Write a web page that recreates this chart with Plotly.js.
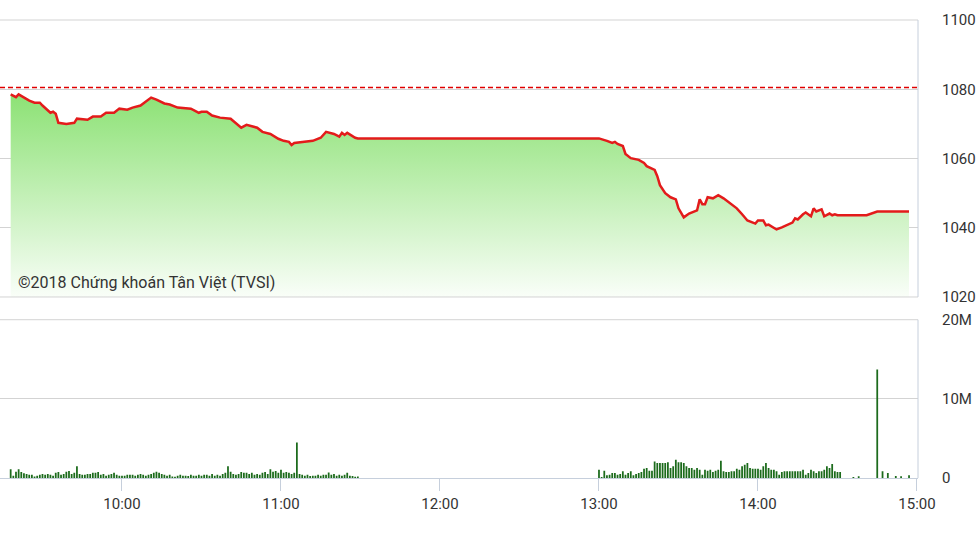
<!DOCTYPE html>
<html>
<head>
<meta charset="utf-8">
<script src="https://cdn.plot.ly/plotly-3.0.1.min.js"></script>
<style>
html,body{margin:0;padding:0;background:#fff;}
#chart{width:978px;height:549px;}
</style>
</head>
<body>
<div id="chart"></div>
<script>
// ---------- DATA ----------
const tradeDate = '2018-06-01';

const priceTimes = [
 '09:18','09:20','09:21','09:23','09:25','09:27','09:29','09:30','09:33','09:34',
 '09:35','09:36','09:39','09:42','09:43','09:47','09:49','09:52','09:54','09:57',
 '09:59','10:02','10:04','10:07','10:09','10:11','10:13','10:16','10:18','10:21',
 '10:26','10:29','10:30','10:32','10:34','10:37','10:41','10:45','10:47','10:49',
 '10:51','10:53','10:56','10:59','11:01','11:03','11:04','11:05','11:08','11:12',
 '11:15','11:17','11:20','11:22','11:23','11:24','11:25','11:28','11:29','13:00',
 '13:03','13:05','13:06','13:07','13:09','13:10','13:12','13:14','13:15','13:17',
 '13:18','13:21','13:22','13:23','13:25','13:27','13:29','13:30','13:32','13:34',
 '13:37','13:38','13:39','13:40','13:41','13:43','13:45','13:47','13:49','13:52',
 '13:54','13:56','13:59','14:00','14:02','14:03','14:04','14:07','14:09','14:11',
 '14:13','14:14','14:15','14:17','14:18','14:20','14:21','14:22','14:24','14:25',
 '14:27','14:28','14:29','14:30','14:41','14:45','14:57'
];
const priceValues = [
 1078.5,1077.7,1078.5,1077.6,1076.7,1076.1,1076.1,1075.3,1073.2,1073.5,
 1072.9,1070.3,1070.0,1070.3,1071.5,1071.2,1072.1,1072.1,1073.2,1073.2,
 1074.4,1074.1,1074.7,1075.3,1076.4,1077.6,1077.0,1075.9,1075.6,1074.7,
 1074.4,1073.2,1073.5,1073.5,1072.4,1071.8,1071.5,1068.9,1069.7,1069.2,
 1068.9,1067.7,1067.1,1065.7,1065.1,1064.8,1063.9,1064.5,1064.8,1065.1,
 1066.0,1067.7,1067.1,1066.3,1067.4,1066.8,1067.4,1066.0,1065.8,1065.8,
 1065.1,1064.5,1064.8,1064.2,1063.6,1061.3,1060.1,1059.9,1059.6,1058.7,
 1057.8,1056.7,1054.9,1052.3,1050.0,1048.8,1048.2,1045.6,1043.0,1044.1,
 1045.0,1048.2,1046.8,1046.8,1048.8,1048.5,1049.4,1048.5,1047.3,1045.6,
 1043.9,1042.1,1041.2,1042.1,1042.1,1040.7,1040.9,1039.5,1040.1,1040.7,
 1041.5,1042.7,1042.4,1043.9,1044.4,1043.3,1045.6,1044.7,1045.3,1043.3,
 1044.1,1043.6,1043.9,1043.6,1043.6,1044.7,1044.7
];
const referencePrice = 1080.5;

// one-minute volume bars (millions of shares)
const volMorningStart = '09:18';
const volMorning = [
 1.1,0.3,0.8,1.1,0.75,0.6,0.5,0.4,0.4,0.2,
 0.3,0.4,0.5,0.4,0.5,0.4,0.3,0.65,0.75,0.4,
 0.5,0.8,0.9,0.5,0.65,1.5,0.5,0.4,0.4,0.5,
 0.5,0.65,0.65,0.75,0.4,0.5,0.3,0.4,0.5,0.65,
 0.4,0.3,0.3,0.3,0.4,0.4,0.4,0.3,0.4,0.5,
 0.4,0.3,0.4,0.5,0.65,0.8,0.65,0.5,0.4,0.3,
 0.4,0.2,0.15,0.3,0.4,0.3,0.3,0.25,0.4,0.3,
 0.3,0.4,0.3,0.4,0.4,0.3,0.5,0.3,0.4,0.3,
 0.5,0.65,1.5,0.8,0.5,0.4,0.5,0.75,0.65,0.65,
 0.5,0.65,0.4,0.5,0.4,0.65,0.75,0.5,1.1,0.8,
 0.9,0.65,1.05,0.65,0.75,0.65,0.5,0.65,4.5,0.5,
 0.4,0.3,0.4,0.25,0.3,0.3,0.4,0.3,0.4,0.4,
 0.7,0.4,0.5,0.3,0.4,0.3,0.4,0.65,0.3,0.25,0.15,0.2
];
const volAfternoonStart = '13:00';
const volAfternoon = [
 1.05,0.13,0.92,0.34,0.42,0.63,0.63,0.42,0.5,0.84,
 0.42,0.63,0.84,0.34,0.5,0.63,0.76,1.18,1.26,0.92,
 0.92,2.1,1.89,1.89,1.89,1.89,2.0,1.26,1.47,2.31,
 2.0,2.0,1.89,1.47,1.26,1.26,1.05,1.26,1.05,0.42,
 1.05,0.92,1.05,0.76,0.92,1.05,2.18,0.84,0.76,0.76,
 0.84,0.84,1.18,1.05,1.47,1.68,1.89,1.26,1.18,1.18,
 1.18,1.05,1.47,1.89,1.26,1.05,1.05,0.84,0.42,0.76,
 0.84,0.84,0.84,0.84,0.84,0.84,0.84,1.05,0.42,0.63,
 1.05,0.84,0.63,0.84,0.84,1.05,1.47,1.26,1.76,0.84,
 0.76,0.76
];
const volLateTimes = ['14:36','14:38','14:45','14:47','14:49','14:52','14:54','14:57'];
const volLate = [0.13,0.21,13.7,0.84,0.63,0.25,0.21,0.34];

const priceTicks = [1020,1040,1060,1080,1100];
const volTicks = [0,10,20];
const volTickText = ['0','10M','20M'];
const copyrightText = '©2018 Chứng khoán Tân Việt (TVSI)';

// ---------- BUILD ----------
function stamp(hm){ return tradeDate + ' ' + hm; }
function minuteSeq(startHM, n){
  const [h,m] = startHM.split(':').map(Number);
  const out = [];
  for(let i=0;i<n;i++){
    const t = h*60+m+i;
    out.push(stamp(String(Math.floor(t/60)).padStart(2,'0')+':'+String(t%60).padStart(2,'0')));
  }
  return out;
}
const volX = minuteSeq(volMorningStart, volMorning.length)
  .concat(minuteSeq(volAfternoonStart, volAfternoon.length))
  .concat(volLateTimes.map(stamp));
const volY = volMorning.concat(volAfternoon).concat(volLate).map(v => v*1e6);

const font = {family:'Roboto, Arial, sans-serif', size:15, color:'#333'};
const gridC = '#d3d3d3';
const axisC = '#c6cfdc';

const priceTrace = {
  type:'scatter', mode:'lines',
  x: priceTimes.map(stamp), y: priceValues,
  xaxis:'x', yaxis:'y',
  line:{color:'#e31b1b', width:2.5},
  fill:'tozeroy',
  fillgradient:{type:'vertical', start:1020, stop:1080,
    colorscale:[[0,'rgb(250,254,249)'],[1,'rgb(138,225,114)']]},
  hoverinfo:'skip'
};
const volTrace = {
  type:'bar', x: volX, y: volY,
  xaxis:'x', yaxis:'y2',
  width: 40000,
  marker:{color:'#1c6b1c', line:{width:0}},
  hoverinfo:'skip'
};

const layout = {
  width:978, height:549,
  margin:{l:0, r:60, t:20, b:71},
  paper_bgcolor:'#fff', plot_bgcolor:'#fff',
  showlegend:false,
  font: font,
  xaxis:{
    type:'date', anchor:'y2',
    range:[stamp('09:13:58'), stamp('15:00:23')],
    tick0: stamp('10:00'), dtick: 3600000, tickformat:'%H:%M',
    ticks:'outside', ticklen:12, tickcolor:axisC,
    showline:true, linecolor:axisC, linewidth:1,
    showgrid:false, zeroline:false,
    tickfont:{family:font.family, size:15, color:'#333'}
  },
  yaxis:{
    domain:[0.3952,1], range:[1020,1100], side:'right', anchor:'x',
    tickvals: priceTicks, ticktext: priceTicks.map(String),
    ticks:'outside', ticklen:20, tickcolor:'rgba(0,0,0,0)',
    showgrid:true, gridcolor:gridC, zeroline:false, showline:false,
    tickfont:{family:font.family, size:15, color:'#333'}
  },
  yaxis2:{
    domain:[0,0.3456], range:[0,20e6], side:'right', anchor:'x',
    tickvals: volTicks.map(v=>v*1e6), ticktext: volTickText,
    ticks:'outside', ticklen:20, tickcolor:'rgba(0,0,0,0)',
    showgrid:true, gridcolor:gridC, zeroline:false, showline:false,
    tickfont:{family:font.family, size:15, color:'#333'}
  },
  shapes:[
    {type:'line', xref:'paper', yref:'y domain', x0:0, x1:1, y0:1, y1:1,
     line:{color:gridC, width:1}},
    {type:'line', xref:'paper', yref:'y domain', x0:0, x1:1, y0:0, y1:0,
     line:{color:gridC, width:1}},
    {type:'line', xref:'paper', yref:'y2 domain', x0:0, x1:1, y0:1, y1:1,
     line:{color:gridC, width:1}},
    {type:'line', xref:'paper', yref:'y', x0:0, x1:1, y0:referencePrice, y1:referencePrice,
     line:{color:'#e00000', width:1.6, dash:'5px,3px'}},
    {type:'line', xref:'paper', yref:'y domain', x0:1, x1:1, y0:0, y1:1,
     line:{color:axisC, width:1}},
    {type:'line', xref:'paper', yref:'y2 domain', x0:1, x1:1, y0:0, y1:1,
     line:{color:axisC, width:1}}
  ],
  annotations:[
    {text: copyrightText, xref:'paper', yref:'y', x:0.0175, y:1024.2,
     xanchor:'left', yanchor:'middle', showarrow:false,
     font:{family:font.family, size:16, color:'#333'}}
  ]
};

Plotly.newPlot('chart', [priceTrace, volTrace], layout, {displayModeBar:false, staticPlot:true});
</script>
</body>
</html>
